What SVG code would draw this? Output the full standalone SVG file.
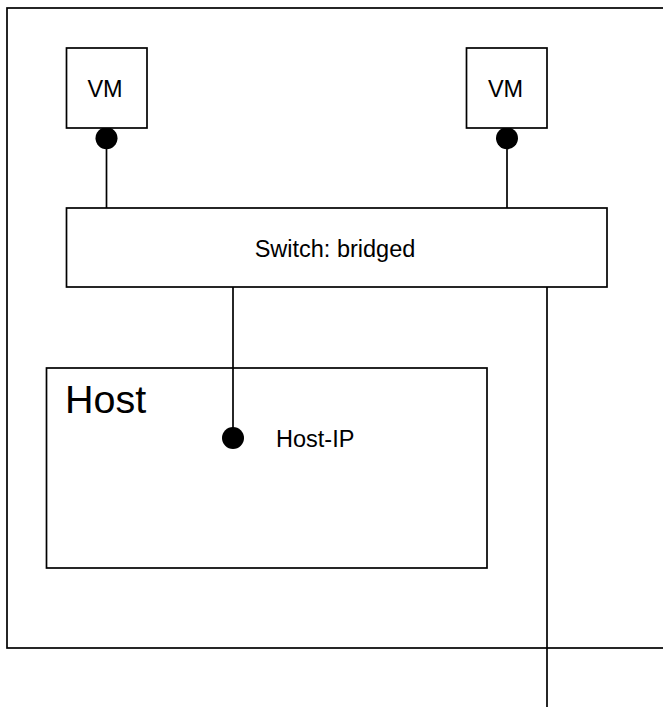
<svg xmlns="http://www.w3.org/2000/svg" width="663" height="707" viewBox="0 0 663 707">
<style>
.box{fill:#fff;stroke:#000;stroke-width:1.7}
.ln{fill:none;stroke:#000;stroke-width:1.7}
.dot{fill:#000}
text{font-family:"Liberation Sans",Arial,sans-serif;fill:#000}
.t24{font-size:23.5px}
</style>
<rect width="663" height="707" fill="#fff"/>
<g id="outer"><rect class="box" x="7" y="8" width="670" height="640"/></g>
<g id="connectors">
<line class="ln" x1="106.5" y1="138" x2="106.5" y2="208"/>
<line class="ln" x1="507" y1="138" x2="507" y2="208"/>
<line class="ln" x1="233" y1="287" x2="233" y2="438"/>
<line class="ln" x1="547" y1="287" x2="547" y2="707"/>
<circle class="dot" cx="106.5" cy="138.3" r="11"/>
<circle class="dot" cx="507" cy="138.3" r="11"/>
</g>
<g id="vm1"><rect class="box" x="66.5" y="48" width="80.5" height="80"/><text class="t24" x="105" y="97" text-anchor="middle">VM</text></g>
<g id="vm2"><rect class="box" x="466.5" y="48" width="80.5" height="80"/><text class="t24" x="505.5" y="97" text-anchor="middle">VM</text></g>
<g id="switch"><rect class="box" x="66.5" y="208" width="540.5" height="79"/><text class="t24" x="335" y="257" text-anchor="middle">Switch: bridged</text></g>
<g id="host"><rect class="box" x="46.5" y="368" width="440.5" height="200"/><text x="65" y="413" font-size="39.5">Host</text>
<line class="ln" x1="233" y1="368" x2="233" y2="438"/>
<circle class="dot" cx="233" cy="438" r="11"/>
<text class="t24" x="276" y="447">Host-IP</text></g>
</svg>
